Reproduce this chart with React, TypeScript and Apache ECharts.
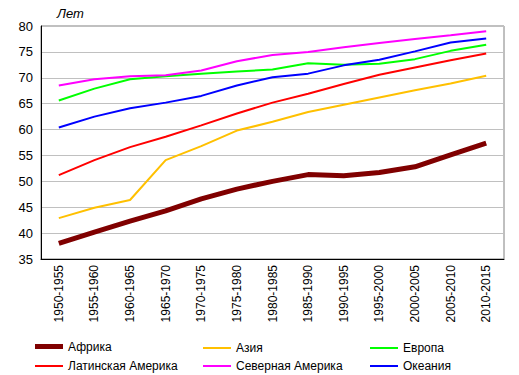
import React, { useEffect, useRef } from "react";
import * as echarts from "echarts";

const categories = ["1950-1955","1955-1960","1960-1965","1965-1970","1970-1975","1975-1980","1980-1985","1985-1990","1990-1995","1995-2000","2000-2005","2005-2010","2010-2015"];
const africa = [38.0, 40.2, 42.3, 44.3, 46.6, 48.5, 50.0, 51.3, 51.1, 51.7, 52.8, 55.1, 57.4];
const asia = [42.9, 44.9, 46.4, 54.1, 56.8, 59.8, 61.5, 63.4, 64.8, 66.2, 67.6, 68.9, 70.4];
const europe = [65.6, 67.9, 69.7, 70.3, 70.8, 71.2, 71.6, 72.8, 72.5, 72.7, 73.6, 75.2, 76.4];
const latinAmerica = [51.2, 54.1, 56.6, 58.6, 60.8, 63.1, 65.2, 66.9, 68.8, 70.6, 72.0, 73.4, 74.7];
const northAmerica = [68.5, 69.7, 70.3, 70.5, 71.4, 73.2, 74.4, 75.0, 75.9, 76.7, 77.5, 78.2, 79.0];
const oceania = [60.4, 62.5, 64.1, 65.2, 66.5, 68.5, 70.1, 70.8, 72.4, 73.5, 75.1, 76.8, 77.6];
const yTicks = { min: 35, max: 80, interval: 5 };

export default function App() {
  const ref = useRef<HTMLDivElement>(null);
  useEffect(() => {
    const chart = echarts.init(ref.current!, null, { renderer: "svg" });
    const mk = (name: string, data: number[], color: string, width: number) => ({
      name, type: "line", data, symbol: "none", smooth: false,
      lineStyle: { color, width }, itemStyle: { color },
    });
    const lg = (name: string, left: number, center: number, h: number) => ({
      orient: "horizontal", left, top: center - h / 2, itemWidth: 28, itemHeight: h,
      icon: "rect",
      textStyle: { fontFamily: "Arial, 'Liberation Sans'", fontSize: 12, color: "#000" },
      selectedMode: false, data: [name], padding: 0,
    });
    chart.setOption({
      animation: false,
      textStyle: { fontFamily: "Arial, 'Liberation Sans'" },
      grid: { left: 41, right: 15, top: 26, bottom: 116, show: true, borderColor: "#808080", borderWidth: 1 },
      graphic: [{ type: "text", left: 57, top: 7, style: { text: "Лет", fontStyle: "italic", fontSize: 13, fill: "#000", fontFamily: "Arial, 'Liberation Sans'" } }],
      xAxis: {
        type: "category", data: categories, boundaryGap: true,
        axisLine: { lineStyle: { color: "#000", width: 1 } },
        axisTick: { show: false },
        axisLabel: { rotate: 90, margin: 6, fontSize: 12, color: "#000", interval: 0 },
      },
      yAxis: {
        type: "value", min: yTicks.min, max: yTicks.max, interval: yTicks.interval,
        axisLine: { show: true, lineStyle: { color: "#000", width: 1 } },
        axisTick: { show: false },
        axisLabel: { fontSize: 13, color: "#000", margin: 8 },
        splitLine: { lineStyle: { color: "#c0c0c0", width: 1 } },
      },
      legend: [
        lg("Африка", 35, 343, 5),
        lg("Латинская Америка", 35, 361, 2),
        lg("Азия", 203, 343, 2),
        lg("Северная Америка", 203, 361, 2),
        lg("Европа", 370, 343, 2),
        lg("Океания", 370, 361, 2),
      ],
      series: [
        mk("Азия", asia, "#FFC000", 2),
        mk("Европа", europe, "#00FF00", 2),
        mk("Латинская Америка", latinAmerica, "#FF0000", 2),
        mk("Северная Америка", northAmerica, "#FF00FF", 2),
        mk("Океания", oceania, "#0000FF", 2),
        mk("Африка", africa, "#800000", 5),
      ],
    });
    return () => chart.dispose();
  }, []);
  return <div ref={ref} style={{ width: 519, height: 375, position: "absolute", left: 0, top: 0 }} />;
}
